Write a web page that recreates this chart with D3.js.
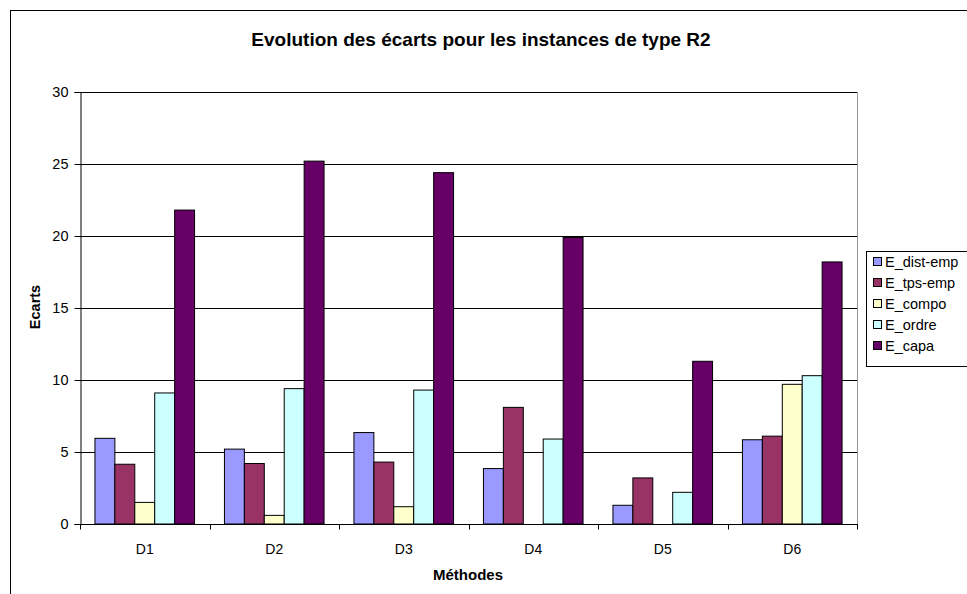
<!DOCTYPE html>
<html>
<head>
<meta charset="utf-8">
<script src="https://cdn.jsdelivr.net/npm/d3@7"></script>
<style>
  html, body { margin: 0; padding: 0; background: #fff; }
  svg { display: block; font-family: "Liberation Sans", Arial, sans-serif; }
</style>
</head>
<body>
<svg id="chart" width="967" height="594"></svg>
<script>
const categories = ["D1", "D2", "D3", "D4", "D5", "D6"];
const seriesNames = ["E_dist-emp", "E_tps-emp", "E_compo", "E_ordre", "E_capa"];
const E_dist_emp = [5.95, 5.2, 6.35, 3.85, 1.3, 5.85];
const E_tps_emp  = [4.15, 4.2, 4.3, 8.1, 3.2, 6.1];
const E_compo    = [1.5, 0.6, 1.2, 0, 0, 9.7];
const E_ordre    = [9.1, 9.4, 9.3, 5.9, 2.2, 10.3];
const E_capa     = [21.8, 25.2, 24.4, 19.9, 11.3, 18.2];
const seriesValues = [E_dist_emp, E_tps_emp, E_compo, E_ordre, E_capa];
const yTicks = [0, 5, 10, 15, 20, 25, 30];
const colors = ["#9999FF", "#993366", "#FFFFCC", "#CCFFFF", "#660066"];

const svg = d3.select("#chart");
const plot = { left: 80, right: 857, top: 92, bottom: 524 };

// outer chart border
svg.append("rect").attr("x", 10.5).attr("y", 10.5).attr("width", 1000).attr("height", 1000)
  .attr("fill", "none").attr("stroke", "#000").attr("stroke-width", 1);

const x0 = d3.scaleBand().domain(categories).range([plot.left, plot.right]).paddingInner(0).paddingOuter(0);
const x1 = d3.scaleBand().domain(seriesNames).range([0, x0.bandwidth()]).paddingInner(0).paddingOuter(0.75);
const y = d3.scaleLinear().domain([0, 30]).range([plot.bottom, plot.top]);

// gridlines
svg.append("g").selectAll("line").data(yTicks.filter(d => d > 0)).join("line")
  .attr("x1", plot.left).attr("x2", plot.right)
  .attr("y1", d => Math.round(y(d)) + 0.5).attr("y2", d => Math.round(y(d)) + 0.5)
  .attr("stroke", "#000").attr("stroke-width", 1);

// right border of plot
svg.append("line").attr("x1", plot.right + 0.5).attr("x2", plot.right + 0.5)
  .attr("y1", plot.top).attr("y2", plot.bottom).attr("stroke", "#999");

// bars
const groups = svg.append("g").selectAll("g").data(categories).join("g")
  .attr("transform", d => `translate(${x0(d)},0)`);
groups.selectAll("rect").data((c, i) => seriesNames.map((s, j) => ({ s, j, v: seriesValues[j][i] })))
  .join("rect")
  .filter(d => d.v > 0)
  .attr("x", d => x1(d.s))
  .attr("y", d => y(d.v))
  .attr("width", x1.bandwidth())
  .attr("height", d => y(0) - y(d.v))
  .attr("fill", d => colors[d.j])
  .attr("stroke", "#000").attr("stroke-width", 1);

// y axis
const yAxis = d3.axisLeft(y).tickValues(yTicks).tickSize(6).tickPadding(6);
const gy = svg.append("g").attr("transform", `translate(${plot.left + 0.5},0)`).call(yAxis);
gy.select(".domain").attr("stroke", "#000");
gy.selectAll("line").attr("stroke", "#000");
gy.selectAll("text").attr("font-size", 14.5).attr("fill", "#000").attr("font-family", "Liberation Sans, Arial, sans-serif");

// x axis
const gx = svg.append("g").attr("transform", `translate(0,${plot.bottom + 0.5})`);
gx.append("line").attr("x1", plot.left).attr("x2", plot.right + 1).attr("stroke", "#000");
const bounds = categories.map(c => x0(c)).concat([plot.right]);
gx.selectAll("line.tk").data(bounds).join("line").attr("class", "tk")
  .attr("x1", d => Math.round(d) + 0.5).attr("x2", d => Math.round(d) + 0.5)
  .attr("y1", 0).attr("y2", 5).attr("stroke", "#000");
gx.selectAll("text").data(categories).join("text")
  .attr("x", d => x0(d) + x0.bandwidth() / 2).attr("y", 29)
  .attr("text-anchor", "middle").attr("font-size", 14).attr("fill", "#000").text(d => d);

// title
svg.append("text").attr("x", 481).attr("y", 46).attr("text-anchor", "middle")
  .attr("font-size", 19).attr("font-weight", "bold").text("Evolution des écarts pour les instances de type R2");

// axis titles
svg.append("text").attr("x", 468).attr("y", 580).attr("text-anchor", "middle")
  .attr("font-size", 15).attr("font-weight", "bold").text("Méthodes");
svg.append("text").attr("transform", "translate(40,307) rotate(-90)").attr("text-anchor", "middle")
  .attr("font-size", 14.5).attr("font-weight", "bold").text("Ecarts");

// legend
const lg = svg.append("g");
lg.append("rect").attr("x", 866.5).attr("y", 251.5).attr("width", 200).attr("height", 115)
  .attr("fill", "#fff").attr("stroke", "#000");
const items = lg.selectAll("g").data(seriesNames).join("g")
  .attr("transform", (d, i) => `translate(873,${262 + i * 21})`);
items.append("rect").attr("x", 0.5).attr("y", -4.5).attr("width", 8).attr("height", 8)
  .attr("fill", (d, i) => colors[i]).attr("stroke", "#000");
items.append("text").attr("x", 12).attr("y", 5).attr("font-size", 14.5).attr("fill", "#000").text(d => d);
</script>
</body>
</html>
